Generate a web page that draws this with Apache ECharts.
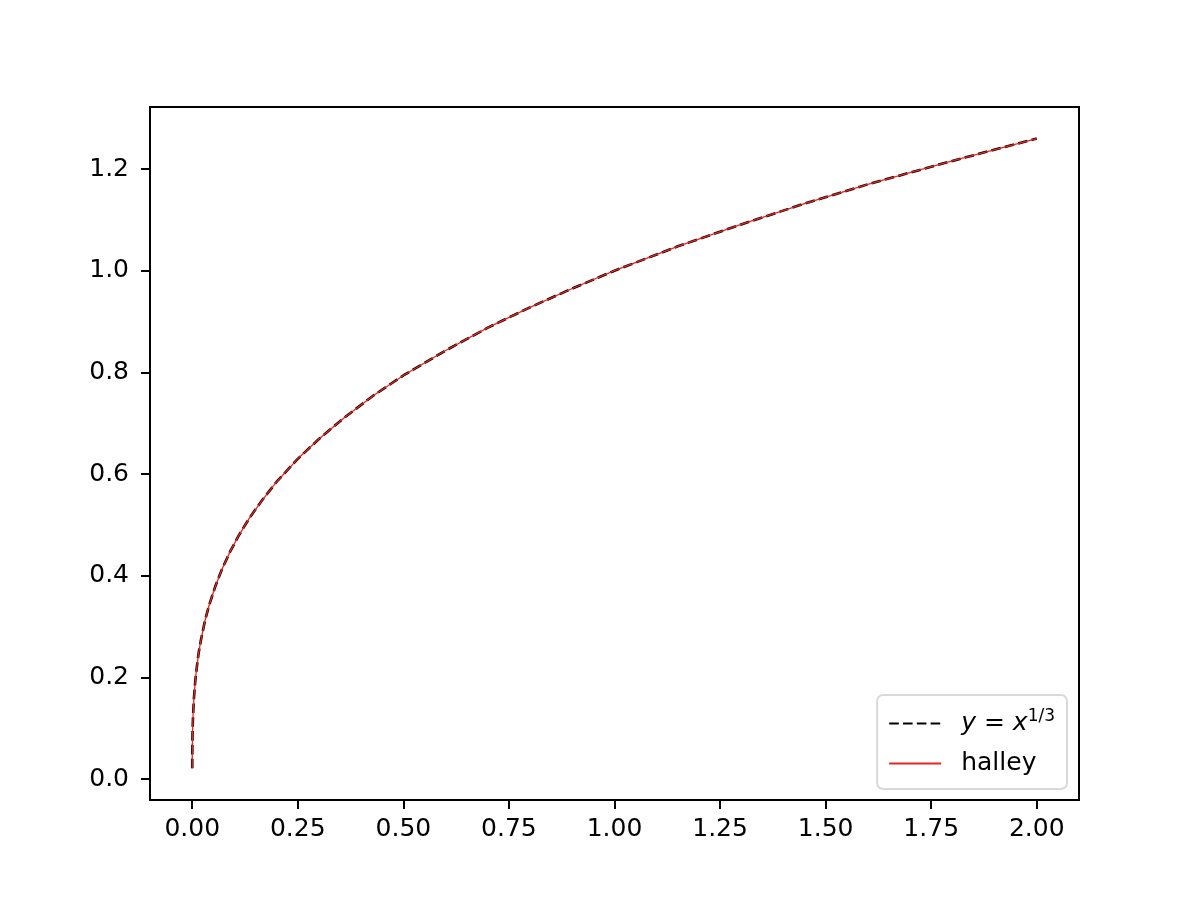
<!DOCTYPE html>
<html>
<head>
<meta charset="utf-8">
<script src="https://cdn.jsdelivr.net/npm/echarts@6/dist/echarts.min.js"></script>
<style>
  html, body { margin: 0; padding: 0; background: #fff; }
  #main { width: 1200px; height: 900px; }
</style>
</head>
<body>
<div id="main"></div>
<script>
// values
const xValues = [0.00001, 0.0001, 0.0005, 0.001, 0.002, 0.004, 0.007, 0.01, 0.015, 0.02, 0.03, 0.04,
  0.055, 0.07, 0.09, 0.11, 0.135, 0.165, 0.2, 0.25, 0.3, 0.36, 0.43, 0.5, 0.6, 0.7, 0.8, 0.9,
  1.0, 1.15, 1.3, 1.45, 1.6, 1.8, 2.0];
const exactY = [0.0215, 0.046, 0.079, 0.100, 0.126, 0.159, 0.191, 0.215, 0.247, 0.271, 0.311, 0.342,
  0.380, 0.412, 0.448, 0.479, 0.513, 0.548, 0.585, 0.630, 0.669, 0.711, 0.755, 0.794, 0.843, 0.888, 0.928, 0.965,
  1.000, 1.048, 1.091, 1.132, 1.170, 1.216, 1.260];
// halley iterate sits on top of the exact curve
const halleyY = [0.0215, 0.046, 0.079, 0.100, 0.126, 0.159, 0.191, 0.215, 0.247, 0.271, 0.311, 0.342,
  0.380, 0.412, 0.448, 0.479, 0.513, 0.548, 0.585, 0.630, 0.669, 0.711, 0.755, 0.794, 0.843, 0.888, 0.928, 0.965,
  1.000, 1.048, 1.091, 1.132, 1.170, 1.216, 1.260];
const xTicks = [0, 0.25, 0.5, 0.75, 1.0, 1.25, 1.5, 1.75, 2.0];
const yTicks = [0, 0.2, 0.4, 0.6, 0.8, 1.0, 1.2];
const seriesNames = ['exact', 'halley'];

const font = 'DejaVu Sans';
const red = '#e8251f';

const toPairs = (xs, ys) => xs.map((x, i) => [x, ys[i]]);

const chart = echarts.init(document.getElementById('main'));

const option = {
  animation: false,
  backgroundColor: '#fff',
  grid: {
    left: 150, right: 121, top: 107, bottom: 100,
    show: true, borderColor: '#000', borderWidth: 2, backgroundColor: 'transparent'
  },
  legend: {
    orient: 'vertical',
    right: 133,
    bottom: 111,
    data: seriesNames,
    itemWidth: 52,
    itemHeight: 25,
    itemGap: 15,
    padding: [13, 12, 13, 11],
    borderColor: '#d9d9d9',
    borderWidth: 2,
    borderRadius: 6,
    backgroundColor: 'rgba(255,255,255,0.8)',
    itemStyle: { opacity: 0 },
    lineStyle: { width: 2.2 },
    textStyle: {
      fontFamily: font, fontSize: 25, color: '#000', padding: [0, 0, 0, 15],
      rich: {
        i: { fontFamily: font, fontStyle: 'italic', fontSize: 25, color: '#000' },
        n: { fontFamily: font, fontSize: 25, color: '#000' },
        s: { fontFamily: font, fontSize: 17, color: '#000', padding: [0, 0, 14, 0] }
      }
    },
    formatter: function (name) {
      if (name === 'exact') return '{i|y}{n| = }{i|x}{s|1/3}';
      return name;
    }
  },
  xAxis: {
    type: 'value',
    min: -0.1,
    max: 2.1,
    splitLine: { show: false },
    axisLine: { show: true, onZero: false, lineStyle: { color: '#000', width: 2 } },
    axisTick: { show: true, length: 9, customValues: xTicks, lineStyle: { color: '#000', width: 2 } },
    axisLabel: {
      customValues: xTicks,
      margin: 17,
      fontFamily: font, fontSize: 25, color: '#000',
      formatter: v => v.toFixed(2)
    }
  },
  yAxis: {
    type: 'value',
    min: -0.041,
    max: 1.322,
    splitLine: { show: false },
    axisLine: { show: true, onZero: false, lineStyle: { color: '#000', width: 2 } },
    axisTick: { show: true, length: 9, customValues: yTicks, lineStyle: { color: '#000', width: 2 } },
    axisLabel: {
      customValues: yTicks,
      margin: 21,
      fontFamily: font, fontSize: 25, color: '#000',
      formatter: v => v.toFixed(1)
    }
  },
  series: [
    {
      name: 'exact',
      type: 'line',
      symbol: 'none',
      data: toPairs(xValues, exactY),
      lineStyle: { color: '#000', width: 2.6, type: [9.6, 4.2] },
      itemStyle: { color: '#000' },
      z: 2
    },
    {
      name: 'halley',
      type: 'line',
      symbol: 'none',
      data: toPairs(xValues, halleyY),
      lineStyle: { color: red, width: 1.3 },
      itemStyle: { color: red },
      z: 3
    }
  ]
};

chart.setOption(option);
</script>
</body>
</html>
